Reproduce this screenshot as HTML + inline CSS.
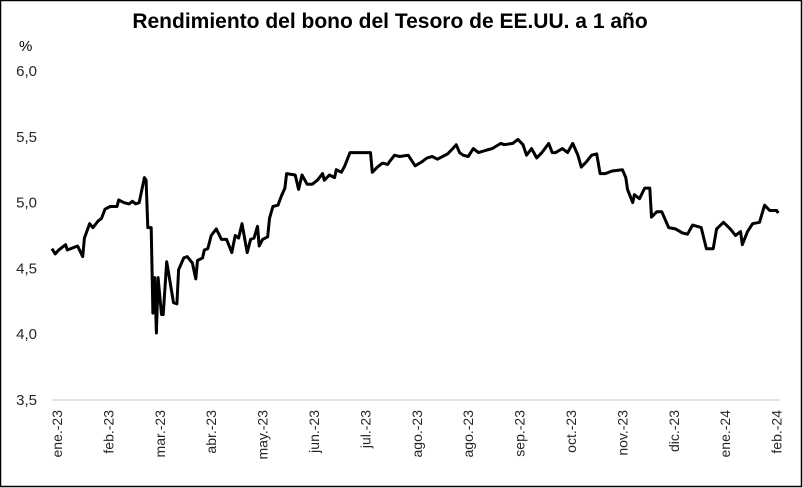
<!DOCTYPE html>
<html><head><meta charset="utf-8"><style>
html,body{margin:0;padding:0;background:#fff}
body{width:803px;height:488px;overflow:hidden}
svg{display:block;font-family:"Liberation Sans",sans-serif}
</style></head><body>
<svg id="chart" width="803" height="488">
<rect x="0.5" y="0.5" width="801" height="486" fill="#fff" stroke="#000" stroke-width="1.5"/>
<text x="390" y="28" text-anchor="middle" font-size="21" font-weight="bold">Rendimiento del bono del Tesoro de EE.UU. a 1 año</text>
<text x="19" y="51" font-size="15">%</text>
<g id="yticks"></g>
<line x1="52" y1="400" x2="780" y2="400" stroke="#d9d9d9" stroke-width="1.5"/>
<g id="xticks"></g>
<path id="line" fill="none" stroke="#000" stroke-width="3" stroke-linejoin="round"/>
</svg>
<script>
const yTicks=[3.5,4.0,4.5,5.0,5.5,6.0];
const xLabels=["ene.-23","feb.-23","mar.-23","abr.-23","may.-23","jun.-23","jul.-23","ago.-23","ago.-23","sep.-23","oct.-23","nov.-23","dic.-23","ene.-24","feb.-24"];
const days=[-3,-1,1,5,6,12,15,16,19,21,24,26,28,31,35,36,39,42,44,46,48,51,52,53,55,56,57,58,59,61,62,64,68,70,71,74,76,79,81,82,85,86,88,90,93,96,99,102,104,106,108,111,113,115,117,118,120,123,124,126,129,131,133,134,139,141,143,146,149,152,155,156,159,162,163,166,168,171,177,180,183,184,187,190,193,194,197,200,205,209,213,216,219,222,228,231,233,235,237,240,243,246,251,254,259,261,266,269,272,274,277,280,283,287,289,291,295,298,301,304,306,309,312,315,317,320,324,330,332,333,336,337,340,343,346,347,350,353,357,361,365,368,371,376,379,383,385,389,393,396,399,400,403,406,410,413,416,420,421];
const yields=[4.65,4.61,4.64,4.68,4.64,4.67,4.59,4.73,4.84,4.81,4.86,4.88,4.95,4.97,4.97,5.02,5.00,4.99,5.01,4.99,5.00,5.19,5.17,4.81,4.81,4.16,4.43,4.01,4.43,4.15,4.15,4.55,4.24,4.23,4.49,4.58,4.59,4.54,4.42,4.56,4.58,4.64,4.65,4.75,4.80,4.72,4.72,4.62,4.75,4.73,4.84,4.62,4.72,4.73,4.82,4.67,4.72,4.74,4.88,4.97,4.98,5.05,5.11,5.22,5.21,5.10,5.21,5.14,5.14,5.17,5.22,5.17,5.21,5.19,5.25,5.23,5.28,5.38,5.38,5.38,5.38,5.23,5.27,5.30,5.29,5.31,5.36,5.35,5.36,5.28,5.31,5.34,5.35,5.33,5.37,5.41,5.44,5.38,5.36,5.35,5.41,5.38,5.40,5.41,5.45,5.44,5.45,5.48,5.44,5.36,5.41,5.34,5.38,5.45,5.38,5.38,5.41,5.38,5.45,5.36,5.27,5.31,5.36,5.37,5.22,5.22,5.24,5.25,5.19,5.10,5.00,5.06,5.03,5.11,5.11,4.89,4.93,4.93,4.81,4.80,4.77,4.76,4.83,4.81,4.65,4.65,4.80,4.85,4.80,4.75,4.78,4.68,4.78,4.84,4.85,4.98,4.94,4.94,4.92];
const tickDays=30;
const NS="http://www.w3.org/2000/svg";
function yS(v){return 400-(v-3.5)*131.6;}
function xS(d){return 57+d*51.4/tickDays;}
const yg=document.getElementById('yticks');
yTicks.forEach(v=>{
  const t=document.createElementNS(NS,'text');
  t.setAttribute('x',37);t.setAttribute('y',yS(v)+5);
  t.setAttribute('text-anchor','end');t.setAttribute('font-size','15');t.setAttribute('fill','#262626');
  t.textContent=v.toFixed(1).replace('.',',');
  
  
  yg.appendChild(t);
});
const xg=document.getElementById('xticks');
xLabels.forEach((l,i)=>{
  const x=xS(i*tickDays);
  const t=document.createElementNS(NS,'text');
  t.setAttribute('transform','translate('+(x+5)+',410) rotate(-90)');
  t.setAttribute('text-anchor','end');t.setAttribute('font-size','14');t.setAttribute('fill','#262626');
  t.textContent=l;
  
  
  xg.appendChild(t);
});
let d='';
days.forEach((dd,i)=>{d+=(i?'L':'M')+xS(dd).toFixed(1)+','+yS(yields[i]).toFixed(1);});
document.getElementById('line').setAttribute('d',d);
</script>
</body></html>
